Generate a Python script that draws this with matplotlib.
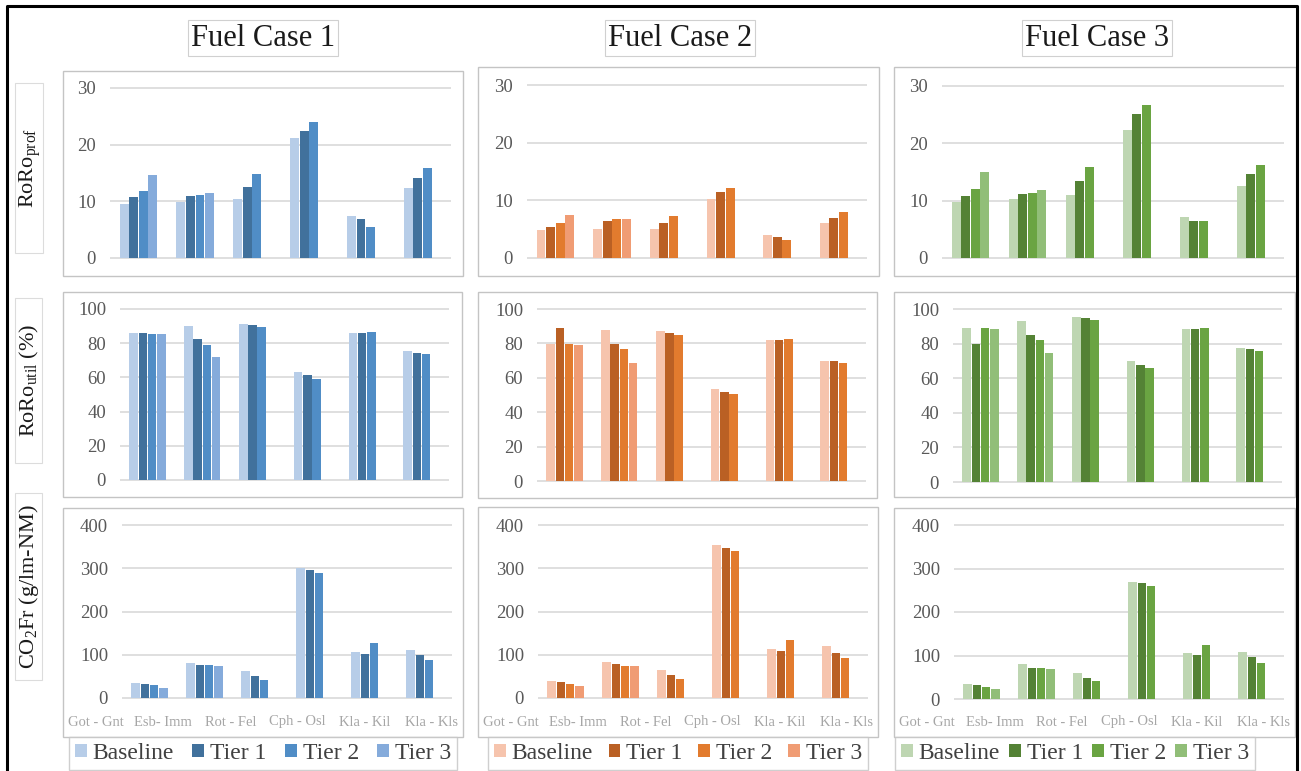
import numpy as np
import matplotlib
matplotlib.use("Agg")
import matplotlib.pyplot as plt
from matplotlib.patches import Rectangle, Patch
from matplotlib.lines import Line2D

plt.rcParams["font.family"] = ["Liberation Serif", "DejaVu Serif"]
plt.rcParams["mathtext.fontset"] = "custom"
plt.rcParams["mathtext.rm"] = "Liberation Serif"
plt.rcParams["mathtext.it"] = "Liberation Serif:italic"

W, H = 1301, 771
nan = np.nan
SERIF = ["Liberation Serif", "DejaVu Serif"]

# --- data -------------------------------------------------------------
routes = ["Got - Gnt", "Esb- Imm", "Rot - Fel", "Cph - Osl", "Kla - Kil", "Kla - Kls"]
series = ["Baseline", "Tier 1", "Tier 2", "Tier 3"]
cases = ["Fuel Case 1", "Fuel Case 2", "Fuel Case 3"]
row_labels = [r"RoRo$_{\mathrm{prof}}$", r"RoRo$_{\mathrm{util}}$ (%)", r"CO$_2$Fr (g/lm-NM)"]

# RoRo_prof, rows = Baseline, Tier 1, Tier 2, Tier 3
prof_case1 = [[9.5, 9.9, 10.5, 21.2, 7.4, 12.3],
              [10.8, 10.9, 12.6, 22.5, 6.8, 14.1],
              [11.8, 11.2, 14.9, 24.0, 5.5, 15.9],
              [14.7, 11.4, nan, nan, nan, nan]]
prof_case2 = [[4.8, 5.1, 5.1, 10.3, 4.0, 6.1],
              [5.4, 6.5, 6.1, 11.4, 3.6, 6.9],
              [6.0, 6.7, 7.2, 12.1, 3.1, 7.9],
              [7.4, 6.8, nan, nan, nan, nan]]
prof_case3 = [[9.8, 10.3, 11.0, 22.4, 7.2, 12.6],
              [10.9, 11.1, 13.4, 25.1, 6.5, 14.6],
              [12.1, 11.4, 15.9, 26.6, 6.5, 16.2],
              [15.0, 11.8, nan, nan, nan, nan]]

# RoRo_util (%)
util_case1 = [[85.9, 90.2, 91.4, 63.1, 85.9, 75.2],
              [85.9, 82.4, 90.4, 61.3, 85.9, 74.2],
              [85.5, 79.1, 89.5, 59.0, 86.3, 73.8],
              [85.5, 72.1, nan, nan, nan, nan]]
util_case2 = [[79.6, 88.0, 87.0, 53.4, 82.1, 69.9],
              [88.9, 79.6, 86.0, 52.0, 82.1, 69.5],
              [79.6, 76.7, 85.0, 50.5, 82.7, 68.5],
              [79.2, 68.5, nan, nan, nan, nan]]
util_case3 = [[89.0, 93.2, 95.4, 69.8, 88.6, 77.4],
              [79.7, 85.1, 94.6, 67.7, 88.6, 76.8],
              [89.0, 81.8, 93.4, 65.8, 89.0, 76.0],
              [88.6, 74.5, nan, nan, nan, nan]]

# CO2Fr (g/lm-NM)
co2_case1 = [[35.5, 80.0, 61.8, 299.6, 106.6, 112.0],
             [32.4, 77.0, 51.7, 295.0, 102.7, 98.8],
             [30.1, 77.0, 42.5, 289.6, 127.4, 87.3],
             [23.9, 73.0, nan, nan, nan, nan]]
co2_case2 = [[38.6, 83.4, 64.1, 353.7, 113.5, 119.7],
             [36.3, 78.0, 54.1, 346.0, 108.1, 104.2],
             [31.7, 75.0, 44.8, 340.5, 134.4, 93.4],
             [27.0, 75.0, nan, nan, nan, nan]]
co2_case3 = [[34.5, 79.7, 59.0, 269.7, 105.0, 108.8],
             [32.2, 72.0, 49.0, 265.9, 100.4, 95.8],
             [28.4, 72.0, 41.4, 260.5, 124.1, 83.5],
             [22.2, 68.2, nan, nan, nan, nan]]

colors_case1 = ["#b7cde8", "#41719c", "#508dc6", "#85abdb"]
colors_case2 = ["#f6c4ad", "#ba6024", "#e27b2e", "#f09c74"]
colors_case3 = ["#bed6b2", "#548235", "#6aa442", "#91be78"]

# --- layout (pixel boxes: left, top, right, bottom) -------------------
plot_boxes = [
    [(110, 88, 451, 258), (527, 85, 867, 258), (942, 86, 1284, 258)],
    [(120, 309, 449, 480), (537, 309, 866, 481), (953, 309, 1282, 482)],
    [(122, 525, 452, 698), (538, 525, 868, 698), (954, 525, 1284, 699)],
]
frame_boxes = [
    [(63, 71, 463, 276), (478, 67, 879, 276), (894, 67, 1296, 276)],
    [(63, 292, 462, 497), (478, 292, 877, 498), (894, 292, 1295, 497)],
    [(63, 508, 463, 737), (478, 507, 878, 737), (894, 508, 1295, 737)],
]
legend_boxes = [(69, 737, 457), (488, 737, 868), (895, 737, 1255)]
label_boxes = [(15, 83, 43, 253), (15, 298, 42, 463), (15, 493, 42, 680)]
title_x = [263, 680, 1097]
y_max = [30, 100, 400]
y_step = [10, 20, 100]


def fx(x):
    return x / W


def fy(y):
    return 1 - y / H


def add_box(fig, box, ec="#c4c4c4", lw=1.0):
    l, t, r, b = box
    fig.add_artist(Rectangle((fx(l), fy(b)), fx(r - l), (b - t) / H,
                             transform=fig.transFigure, fill=True,
                             facecolor="white", edgecolor=ec, lw=lw, zorder=0))


def draw_panel(fig, box, data, colors, ymax, step):
    l, t, r, b = box
    pad = 0.015 * (b - t)
    ax = fig.add_axes([fx(l), fy(b + pad), fx(r - l), (b - t + 2 * pad) / H])
    ax.set_facecolor("none")
    x = np.arange(len(routes))
    slot = 0.168
    for k, (vals, c) in enumerate(zip(data, colors)):
        ax.bar(x + (k - 1.5) * slot, vals, width=slot * 0.93, color=c,
               edgecolor="none", zorder=3)
    ax.set_xlim(-0.5, len(routes) - 0.5)
    ax.set_ylim(-0.015 * ymax, 1.015 * ymax)
    ax.set_yticks(np.arange(0, ymax + 1, step))
    ax.set_xticks([])
    ax.grid(axis="y", color="#d9d9d9", lw=1.2, zorder=0)
    for s in ax.spines.values():
        s.set_visible(False)
    ax.tick_params(axis="y", length=0, pad=10, labelsize=13.5, labelcolor="#595959")
    return ax


fig = plt.figure(figsize=(W / 100, H / 100), dpi=100)

all_data = [
    [prof_case1, prof_case2, prof_case3],
    [util_case1, util_case2, util_case3],
    [co2_case1, co2_case2, co2_case3],
]
all_colors = [colors_case1, colors_case2, colors_case3]

for row in range(3):
    for col in range(3):
        add_box(fig, frame_boxes[row][col])
        draw_panel(fig, plot_boxes[row][col], all_data[row][col],
                   all_colors[col], y_max[row], y_step[row])

# category labels spread across the bottom frames
for col in range(3):
    l, t, r, b = frame_boxes[2][col]
    for i, name in enumerate(routes):
        fig.text(fx(l + (r - l) * (0.083 + 0.1677 * i)), fy(722), name,
                 ha="center", va="center", fontsize=10.5, color="#a6a6a6",
                 family=SERIF)

# legends below each column
for col in range(3):
    l, t, r = legend_boxes[col]
    handles = [Patch(facecolor=c, edgecolor="none") for c in all_colors[col]]
    leg = fig.legend(handles, series, ncol=4, loc="upper left",
                     bbox_to_anchor=(fx(l), fy(t), fx(r - l), 0.0),
                     mode="expand", prop=dict(family=SERIF, size=17),
                     frameon=True, fancybox=False,
                     handlelength=0.5, handleheight=0.5, handletextpad=0.25,
                     borderaxespad=0, borderpad=0.25, labelcolor="#404040")
    leg.get_frame().set_edgecolor("#c4c4c4")
    leg.get_frame().set_linewidth(1.0)

# column titles
for col in range(3):
    fig.text(fx(title_x[col]), fy(38), cases[col], ha="center", va="center",
             fontsize=22, color="#1a1a1a", family=SERIF,
             bbox=dict(boxstyle="square,pad=0.1", fc="white", ec="#d0d0d0", lw=0.8))

# row labels in boxes
for row in range(3):
    add_box(fig, label_boxes[row], ec="#dcdcdc", lw=0.8)
    l, t, r, b = label_boxes[row]
    fig.text(fx((l + r) / 2 + 1), fy((t + b) / 2), row_labels[row], rotation=90,
             ha="center", va="center", fontsize=16, color="#1a1a1a", family=SERIF)

# outer black border (open at the bottom)
fig.add_artist(Line2D([fx(7), fx(7), fx(1297), fx(1297)],
                      [0, fy(6), fy(6), 0], transform=fig.transFigure,
                      color="black", lw=2.2))

fig.savefig("out.png", dpi=100)
